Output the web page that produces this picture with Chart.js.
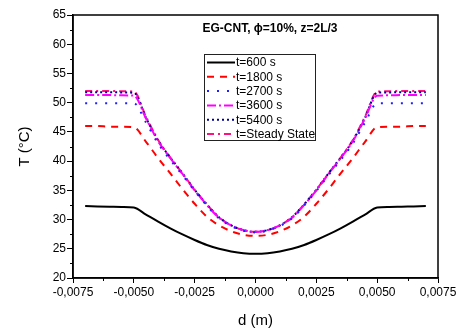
<!DOCTYPE html>
<html>
<head>
<meta charset="utf-8">
<script src="https://cdn.jsdelivr.net/npm/chart.js@4.4.1/dist/chart.umd.min.js"></script>
<style>
  body { margin: 0; background: #fff; }
  #wrap { width: 464px; height: 331px; position: relative; }
</style>
</head>
<body>
<div id="wrap"><canvas id="chart" width="464" height="331"></canvas></div>
<script>
// position across the channel, d (m)
var dValues = [-0.007, -0.0065, -0.006, -0.0055, -0.005, -0.0045, -0.004, -0.0035, -0.003, -0.0025,
  -0.002, -0.0015, -0.001, -0.0005, 0, 0.0005, 0.001, 0.0015, 0.002, 0.0025,
  0.003, 0.0035, 0.004, 0.0045, 0.005, 0.0055, 0.006, 0.0065, 0.007];

var t600 = [32.3, 32.25, 32.2, 32.15, 32.05, 30.85, 29.65, 28.5, 27.45, 26.5,
  25.65, 25.0, 24.55, 24.25, 24.15, 24.25, 24.55, 25.0, 25.65, 26.5,
  27.45, 28.5, 29.65, 30.85, 32.05, 32.15, 32.2, 32.25, 32.3];
var t1800 = [46.0, 46.0, 45.9, 45.9, 45.8, 43.3, 40.5, 37.9, 35.2, 32.7,
  30.5, 29.0, 28.0, 27.4, 27.2, 27.4, 28.0, 29.0, 30.5, 32.7,
  35.2, 37.9, 40.5, 43.3, 45.8, 45.9, 45.9, 46.0, 46.0];
var t2700 = [49.9, 49.9, 49.9, 49.9, 49.9, 46.6, 43.0, 40.2, 37.6, 34.9,
  32.4, 30.2, 28.9, 28.1, 27.8, 28.1, 28.9, 30.2, 32.4, 34.9,
  37.6, 40.2, 43.0, 46.6, 49.9, 49.9, 49.9, 49.9, 49.9];
var t3600 = [51.3, 51.3, 51.3, 51.25, 51.2, 47.3, 43.4, 40.5, 37.8, 35.0,
  32.5, 30.3, 29.0, 28.2, 27.9, 28.2, 29.0, 30.3, 32.5, 35.0,
  37.8, 40.5, 43.4, 47.3, 51.2, 51.25, 51.3, 51.3, 51.3];
var t5400 = [51.8, 51.8, 51.8, 51.75, 51.7, 47.4, 43.5, 40.6, 37.9, 35.1,
  32.6, 30.4, 29.0, 28.2, 27.9, 28.2, 29.0, 30.4, 32.6, 35.1,
  37.9, 40.6, 43.5, 47.4, 51.7, 51.75, 51.8, 51.8, 51.8];
var tSteady = [52.0, 52.0, 52.0, 51.95, 51.9, 47.6, 43.6, 40.6, 37.9, 35.1,
  32.6, 30.4, 29.0, 28.2, 27.9, 28.2, 29.0, 30.4, 32.6, 35.1,
  37.9, 40.6, 43.6, 47.6, 51.9, 51.95, 52.0, 52.0, 52.0];

var seriesLabels = ['t=600 s', 't=1800 s', 't=2700 s', 't=3600 s', 't=5400 s', 't=Steady State'];
var xTicks = [-0.0075, -0.005, -0.0025, 0, 0.0025, 0.005, 0.0075];
var yTicks = [20, 25, 30, 35, 40, 45, 50, 55, 60, 65];
var chartTitle = 'EG-CNT, \u03D5=10%, z=2L/3';

function toPoints(vals) {
  return vals.map(function(v, i) { return { x: dValues[i], y: v }; });
}

function line(label, vals, color, dash, width) {
  return {
    label: label,
    data: toPoints(vals),
    borderColor: color,
    backgroundColor: color,
    borderDash: dash,
    borderWidth: width,
    pointRadius: 0,
    cubicInterpolationMode: 'monotone',
    fill: false
  };
}

var datasets = [
  line(seriesLabels[0], t600, '#000000', [], 2),
  line(seriesLabels[1], t1800, '#ff0000', [7, 6], 2),
  line(seriesLabels[2], t2700, '#2020ff', [2, 8], 2),
  line(seriesLabels[3], t3600, '#ff00ff', [9, 3, 2, 3], 2),
  line(seriesLabels[4], t5400, '#000090', [2, 3], 2),
  line(seriesLabels[5], tSteady, '#ff1080', [7, 4, 2, 4], 2)
];

function fmtComma(v) {
  if (Math.abs(v) < 1e-9) return '0,0000';
  return v.toFixed(4).replace('.', ',');
}

// frame, minor ticks, inner title and boxed legend
var extras = {
  id: 'extras',
  afterDraw: function(chart) {
    var ctx = chart.ctx;
    var a = chart.chartArea;
    var xs = chart.scales.x, ys = chart.scales.y;
    ctx.save();
    ctx.strokeStyle = '#000';
    ctx.lineWidth = 1.5;
    ctx.strokeRect(a.left, a.top, a.right - a.left, a.bottom - a.top);

    ctx.lineWidth = 1;
    ctx.beginPath();
    for (var i = 0; i < xTicks.length - 1; i++) {
      var px = Math.round(xs.getPixelForValue((xTicks[i] + xTicks[i + 1]) / 2)) + 0.5;
      ctx.moveTo(px, a.bottom);
      ctx.lineTo(px, a.bottom + 3);
    }
    for (var j = 0; j < yTicks.length - 1; j++) {
      var py = Math.round(ys.getPixelForValue((yTicks[j] + yTicks[j + 1]) / 2)) + 0.5;
      ctx.moveTo(a.left, py);
      ctx.lineTo(a.left - 3, py);
    }
    ctx.stroke();

    ctx.fillStyle = '#000';
    ctx.font = 'bold 12px "Liberation Sans", Arial, sans-serif';
    ctx.textAlign = 'center';
    ctx.textBaseline = 'middle';
    ctx.fillText(chartTitle, 270, 29);

    // legend
    var lx = 204, ly = 54, lw = 111, lh = 86;
    ctx.fillStyle = '#fff';
    ctx.fillRect(lx, ly, lw, lh);
    ctx.strokeStyle = '#222';
    ctx.lineWidth = 1;
    ctx.strokeRect(lx + 0.5, ly + 0.5, lw, lh);
    ctx.font = '12px "Liberation Sans", Arial, sans-serif';
    ctx.textAlign = 'left';
    chart.data.datasets.forEach(function(ds, k) {
      var cy = ly + 8.5 + k * 14.3;
      ctx.strokeStyle = ds.borderColor;
      ctx.lineWidth = ds.borderWidth;
      ctx.setLineDash(ds.borderDash);
      ctx.beginPath();
      ctx.moveTo(lx + 3, cy);
      ctx.lineTo(lx + 31, cy);
      ctx.stroke();
      ctx.setLineDash([]);
      ctx.fillStyle = '#000';
      ctx.fillText(ds.label, lx + 32, cy + 0.5);
    });
    ctx.restore();
  }
};

var ctx = document.getElementById('chart');
var myChart = new Chart(ctx, {
  type: 'line',
  data: { datasets: datasets },
  options: {
    responsive: false,
    animation: false,
    layout: { padding: { left: 0, right: 26, top: 15, bottom: 0 } },
    plugins: { legend: { display: false }, tooltip: { enabled: false } },
    scales: {
      x: {
        type: 'linear',
        min: -0.0075,
        max: 0.0075,
        afterFit: function(scale) { scale.height = 53; },
        afterBuildTicks: function(scale) {
          scale.ticks = xTicks.map(function(v) { return { value: v }; });
        },
        ticks: {
          color: '#000',
          font: { family: '"Liberation Sans", Arial, sans-serif', size: 12 },
          padding: 2,
          maxRotation: 0,
          callback: function(v) { return fmtComma(v); }
        },
        grid: { drawOnChartArea: false, tickLength: 5, color: '#000', lineWidth: 1 },
        border: { display: true, color: '#000', width: 1.5 },
        title: {
          display: true,
          text: 'd (m)',
          color: '#000',
          font: { family: '"Liberation Sans", Arial, sans-serif', size: 15 },
          padding: { top: 1, bottom: 1 }
        }
      },
      y: {
        type: 'linear',
        min: 20,
        max: 65,
        afterFit: function(scale) { scale.width = 73; },
        afterBuildTicks: function(scale) {
          scale.ticks = yTicks.map(function(v) { return { value: v }; });
        },
        ticks: {
          color: '#000',
          font: { family: '"Liberation Sans", Arial, sans-serif', size: 12 },
          padding: 1
        },
        grid: { drawOnChartArea: false, tickLength: 6, color: '#000', lineWidth: 1 },
        border: { display: true, color: '#000', width: 1.5 },
        title: {
          display: true,
          text: 'T (\u00B0C)',
          color: '#000',
          font: { family: '"Liberation Sans", Arial, sans-serif', size: 15 },
          padding: { top: 16, bottom: 0 }
        }
      }
    }
  },
  plugins: [extras]
});
</script>
</body>
</html>
